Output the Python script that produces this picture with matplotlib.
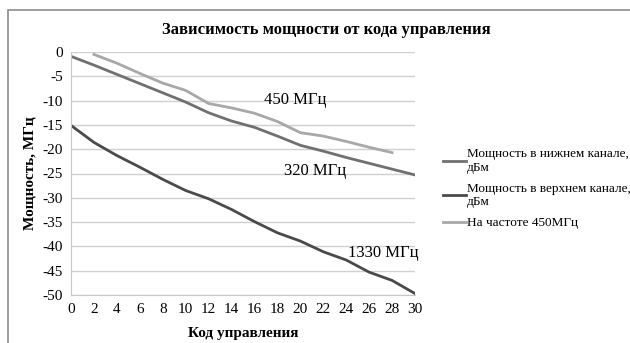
''' Зависимость мощности от кода управления '''

import matplotlib
matplotlib.use("Agg")
import matplotlib.pyplot as plt
from matplotlib.patches import Rectangle

codes = [0, 2, 4, 6, 8, 10, 12, 14, 16, 18, 20, 22, 24, 26, 28, 30]
lower_ch = [-0.9, -2.7, -4.6, -6.5, -8.4, -10.3, -12.5, -14.2, -15.5, -17.3,
            -19.2, -20.4, -21.7, -22.9, -24.1, -25.3]
upper_ch = [-15.1, -18.6, -21.3, -23.7, -26.2, -28.5, -30.2, -32.4, -34.9,
            -37.2, -38.9, -41.1, -42.8, -45.3, -47.0, -49.7]
codes_450 = [2, 4, 6, 8, 10, 12, 14, 16, 18, 20, 22, 24, 26, 28]
freq_450 = [-0.5, -2.3, -4.4, -6.4, -7.9, -10.6, -11.5, -12.6, -14.3, -16.6,
            -17.3, -18.4, -19.6, -20.7]

labels = ["Мощность в нижнем канале,\nдБм",
          "Мощность в верхнем канале,\nдБм",
          "На частоте 450МГц"]
notes = [("450 МГц", 19.6, -9.9), ("320 МГц", 21.3, -24.5), ("1330 МГц", 27.2, -41.4)]

plt.rcParams['font.family'] = ['Liberation Serif', 'DejaVu Serif']
plt.rcParams['axes.unicode_minus'] = False

fig = plt.figure(figsize=(6.3, 3.43), dpi=100)
ax = fig.add_axes([71/630, 1 - 295/343, (415-71)/630, (295-52)/343])

# frame round the whole chart
fig.patches.append(Rectangle((8/630, -0.1), 1.2, 1 - 10/343 + 0.1,
                             transform=fig.transFigure, fill=False,
                             edgecolor="#8c8c8c", linewidth=1.2))

ax.plot(codes, lower_ch, color="#707070", lw=2, label=labels[0])
ax.plot(codes, upper_ch, color="#4a4a4a", lw=2, label=labels[1])
ax.plot(codes_450, freq_450, color="#a8a8a8", lw=2, label=labels[2])

for txt, x, y in notes:
    ax.text(x, y, txt, fontsize=12, ha="center", va="center")

ax.set_xlim(0, 30)
ax.set_ylim(-50, 0)
ax.set_xticks(range(0, 31, 2))
ax.set_yticks(range(-50, 1, 5))
ax.tick_params(length=0, labelsize=11, pad=6)
ax.grid(axis="y", color="#d0d0d0", lw=1)
ax.set_axisbelow(True)
for s in ["top", "right"]:
    ax.spines[s].set_visible(False)
for s in ["left", "bottom"]:
    ax.spines[s].set_color("#c8c8c8")

fig.text(326/630, 1 - 30/343, "Зависимость мощности от кода управления",
         fontsize=12, fontweight="bold", ha="center", va="center")
ax.set_xlabel("Код управления", fontsize=11, fontweight="bold", labelpad=8)
ax.set_ylabel("Мощность, МГц", fontsize=11, fontweight="bold", labelpad=4)

fig.legend(loc="upper left", bbox_to_anchor=(438/630, 1 - 143/343),
           frameon=False, fontsize=9.5, handlelength=1.7, handletextpad=0.1,
           labelspacing=0.65, borderaxespad=0)

fig.savefig("out.png", dpi=100)
